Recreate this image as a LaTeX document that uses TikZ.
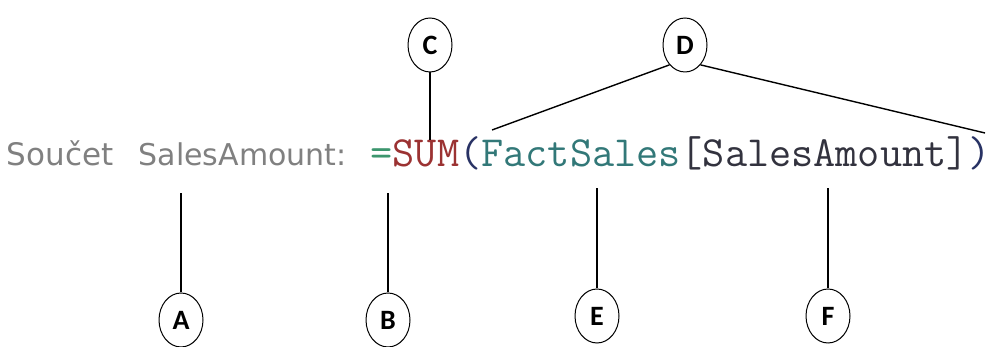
\documentclass[tikz,border=0pt]{standalone}
\usepackage{fontspec}
\usepackage{tikz}
\usetikzlibrary{shapes.geometric}
\newfontfamily\labelfont{Carlito}
\newfontfamily\captionfont{DejaVu Sans}
\definecolor{eqgreen}{RGB}{60,150,110}
\definecolor{funcred}{RGB}{155,50,50}
\definecolor{parenblue}{RGB}{40,50,100}
\definecolor{tableteal}{RGB}{50,120,120}
\definecolor{colgray}{RGB}{50,50,62}
\definecolor{textgray}{RGB}{128,128,128}

\begin{document}
\begin{tikzpicture}[x=1pt, y=1pt, line width=1.4pt,
  letter/.style={ellipse, draw, line width=1pt, minimum width=44pt, minimum height=54pt, inner sep=0pt, font=\labelfont\bfseries\fontsize{28}{28}\selectfont},
  code/.style={anchor=base west, inner sep=0pt}]
  \useasboundingbox (0,0) rectangle (992,347);
  % the measure and its formula
  \node (caption1) [code, text=textgray, font=\captionfont\fontsize{31}{31}\selectfont] at (6,181) {Součet};
  \node (caption2) [code, text=textgray, font=\captionfont\fontsize{30}{30}\selectfont] at (138,181) {SalesAmount:};
  \node (formula) [code, font=\ttfamily\fontsize{43}{43}\selectfont] at (370,180)
    {\textcolor{eqgreen}{=}\textcolor{funcred}{SUM}\textcolor{parenblue}{(}\textcolor{tableteal}{FactSales}\textcolor{colgray}{[SalesAmount]}\textcolor{parenblue}{)}};
  % labels
  \node (C) [letter] at (430,302) {C};
  \node (D) [letter] at (685,302) {D};
  \node (A) [letter] at (181,27) {A};
  \node (B) [letter] at (388,27) {B};
  \node (E) [letter] at (597,31) {E};
  \node (F) [letter] at (828,31) {F};
  \coordinate (c) at (430,207);
  \coordinate (dl) at (492,217);
  \coordinate (dr) at (985,214);
  \coordinate (a) at (181,154);
  \coordinate (b) at (388,154);
  \coordinate (e) at (597,159);
  \coordinate (f) at (828,159);
  \draw (C) -- (c);
  \draw (D.232) -- (dl);
  \draw (D.-52) -- (dr);
  \draw (A) -- (a);
  \draw (B) -- (b);
  \draw (E) -- (e);
  \draw (F) -- (f);
\end{tikzpicture}
\end{document}
